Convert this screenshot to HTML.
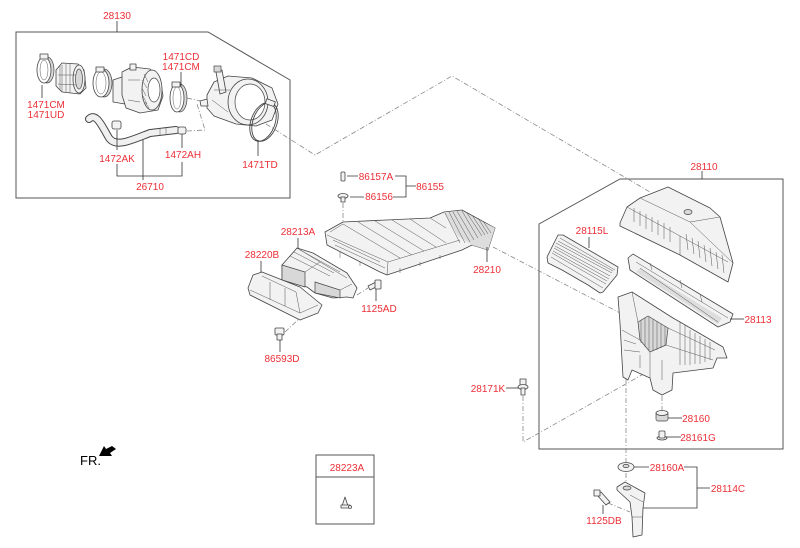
<!DOCTYPE html>
<html><head><meta charset="utf-8"><style>
html,body{margin:0;padding:0;background:#fff;}
svg{display:block;}
text{font-family:"Liberation Sans",Arial,sans-serif;}
.l{font-size:10px;fill:#ec2f36;text-anchor:middle;}
.bx{fill:none;stroke:#555;stroke-width:1;}
.ld{fill:none;stroke:#333;stroke-width:0.8;}
.ds{fill:none;stroke:#888;stroke-width:0.8;stroke-dasharray:5 2 1 2;}
.p{fill:#f2f2f2;stroke:#444;stroke-width:0.8;stroke-linejoin:round;}
.pd{fill:#d8d8d8;stroke:#444;stroke-width:0.7;}
.t{fill:none;stroke:#555;stroke-width:0.5;}
</style></head><body>
<svg width="800" height="548" viewBox="0 0 800 548" xmlns="http://www.w3.org/2000/svg">
<rect width="800" height="548" fill="#fff"/>

<!-- Box 28130 -->
<path class="bx" d="M16,32 L208,32 L290,80 L290,198 L16,198 Z"/>
<!-- Box 28110 -->
<path class="bx" d="M620,179 L783,179 L783,449 L539,449 L539,224 Z"/>
<!-- Box 28223A -->
<rect class="bx" x="316" y="455" width="58" height="69"/>
<line class="bx" x1="316" y1="477" x2="374" y2="477"/>

<!-- dashed connectors -->
<path class="ds" d="M266,124 L315,155 L452,76 L650,192"/>
<path class="ds" d="M493,247 L620,313"/>
<path class="ds" d="M523,396 L523,442 L663,363"/>
<path class="ds" d="M626,378 L626,462"/>
<path class="ds" d="M626,473 L626,482"/>
<path class="ds" d="M662,396 L662,413"/>
<path class="ds" d="M343,203 L343,226"/>
<path class="ds" d="M357,295 L368,288"/>
<path class="ds" d="M285,332 L300,318"/>
<path class="ds" d="M608,503 L630,512"/>
<path class="ds" d="M187,98 L201,101"/>
<path class="ds" d="M187,131 L205,130 L197,104"/>

<!-- ===== Parts in 28130 box ===== -->
<!-- clamp 1 -->
<ellipse cx="47" cy="70" rx="7" ry="13" class="pd"/>
<ellipse cx="44" cy="70" rx="7" ry="13" fill="#fff" stroke="#444" stroke-width="0.8"/>
<ellipse cx="44" cy="70" rx="4" ry="10" class="t"/>
<rect x="40" y="54" width="8" height="5" class="p"/>
<!-- boot -->
<path class="p" d="M56,70 L62,63 L78,64 L84,70 L86,88 L80,94 L62,92 L56,86 Z"/>
<ellipse cx="79" cy="79" rx="6" ry="14" class="p"/>
<ellipse cx="79" cy="79" rx="3.5" ry="10" class="pd"/>
<path class="t" d="M62,65 L62,92 M66,64 L66,92 M70,64 L70,93 M58,75 L76,75 M58,84 L76,85 M60,66 L60,90"/>
<!-- clamp 2 -->
<ellipse cx="104" cy="83" rx="8" ry="14" class="pd"/>
<ellipse cx="101" cy="83" rx="8" ry="14" fill="#fff" stroke="#444" stroke-width="0.8"/>
<ellipse cx="101" cy="83" rx="5" ry="11" class="t"/>
<rect x="96" y="67" width="8" height="5" class="p"/>
<!-- MAF / resonator -->
<path class="p" d="M113,80 L125,76 L125,104 L113,102 Z"/>
<path class="p" d="M122,72 L132,67 L150,69 L160,78 L163,96 L158,110 L140,113 L126,108 L122,95 Z"/>
<rect x="130" y="64" width="6" height="6" class="p"/>
<ellipse cx="152" cy="90" rx="10" ry="20" class="p"/>
<ellipse cx="154" cy="90" rx="6" ry="12" fill="#fff" stroke="#444" stroke-width="0.7"/>
<path class="t" d="M144,74 L148,82 M142,80 L147,88 M142,88 L146,96 M143,96 L147,104 M145,102 L149,108 M128,80 L140,80 M128,100 L140,102"/>
<!-- clamp 3 -->
<ellipse cx="180" cy="98" rx="7" ry="14" class="pd"/>
<ellipse cx="177" cy="98" rx="7" ry="14" fill="#fff" stroke="#444" stroke-width="0.8"/>
<ellipse cx="177" cy="98" rx="4" ry="11" class="t"/>
<rect x="172" y="82" width="8" height="5" class="p"/>
<!-- throttle elbow -->
<path class="p" d="M207,95 L214,82 L228,76 L252,78 L272,88 L278,104 L272,120 L256,126 L236,124 L214,116 L207,108 Z"/>
<path class="p" d="M216,72 L222,70 L226,92 L220,94 Z"/>
<rect x="214" y="66" width="7" height="6" class="pd"/>
<ellipse cx="248" cy="102" rx="20" ry="23" class="p"/>
<ellipse cx="250" cy="102" rx="15" ry="18" fill="#fff" stroke="#444" stroke-width="0.7"/>
<path class="p" d="M200,101 L207,99 L208,106 L201,106 Z"/>
<path class="t" d="M212,100 L228,112 M214,90 L230,90"/>
<!-- clamp 4 (1471TD) -->
<ellipse cx="263" cy="122" rx="12" ry="20" transform="rotate(20 263 122)" fill="none" stroke="#444" stroke-width="0.9"/>
<ellipse cx="265" cy="122" rx="12" ry="20" transform="rotate(20 265 122)" fill="none" stroke="#444" stroke-width="0.9"/>
<rect x="266" y="100" width="9" height="5" class="p" transform="rotate(20 270 102)"/>
<!-- hose 26710 -->
<path d="M89,119 C96,112 102,126 109,138 C116,148 132,140 150,133 L176,130" fill="none" stroke="#444" stroke-width="8" stroke-linecap="round"/>
<path d="M89,119 C96,112 102,126 109,138 C116,148 132,140 150,133 L176,130" fill="none" stroke="#f0f0f0" stroke-width="6" stroke-linecap="round"/>
<path class="t" d="M160,128 L160,135 M166,128 L166,134"/>
<!-- small clamps -->
<rect x="112" y="121" width="9" height="8" rx="2" class="p"/>
<rect x="178" y="127" width="8" height="7" rx="2" class="p"/>

<!-- ===== middle parts ===== -->
<rect x="341" y="172" width="4" height="9" rx="1" class="p"/>
<ellipse cx="343" cy="196" rx="5" ry="2.5" class="p"/>
<rect x="341" y="197" width="4" height="5" class="p"/>
<!-- duct 28210 -->
<path class="p" d="M325,232 L343,222 L430,218 L444,212 L462,210 L495,228 L488,250 L472,245 L462,250 L387,275 L380,272 L327,245 Z"/>
<path fill="#ddd" stroke="none" d="M444,213 L462,211 L495,228 L488,250 L472,245 L458,236 Z"/>
<path class="t" d="M327,235 L388,262 L460,240 M388,262 L387,275 M343,224 L400,258 M358,222 L412,255 M375,221 L424,251 M392,220 L436,247 M410,219 L446,243 M343,224 L330,232 M333,240 L380,262 M445,213 L460,243 M449,212 L465,243 M453,212 L470,242 M457,211 L474,240 M462,211 L478,238 M467,213 L482,236 M472,215 L485,235 M478,218 L488,234 M483,221 L491,233 M430,218 L446,228"/>
<path class="t" d="M340,252 L340,258 M360,262 L360,266 M400,268 L400,273 M420,262 L420,266 M440,255 L440,259 M335,245 L385,268"/>
<!-- ECU 28213A -->
<path class="p" d="M282,265 L297,248 L313,253 L347,273 L357,288 L353,298 L347,297 L333,298 L315,293 L307,287 L282,280 Z"/>
<path class="pd" d="M282,265 L305,272 L305,287 L282,280 Z"/>
<path class="pd" d="M315,282 L340,290 L340,298 L315,293 Z"/>
<path class="t" d="M297,248 L320,262 L347,278 M305,272 L320,262 M340,290 L352,284 M290,256 L330,276 M294,252 L334,273 M300,250 L340,272"/>
<!-- bracket 28220B -->
<path class="p" d="M253,275 L262,272 L300,287 L322,305 L318,313 L300,320 L250,295 L248,288 Z"/>
<path class="t" d="M250,290 L300,313 L318,305 M262,276 L296,292 L300,313 M270,282 L270,300 M285,288 L285,306"/>
<!-- bolt 1125AD -->
<path class="p" d="M368,286 L376,282 L378,286 L370,290 Z"/>
<rect x="375" y="280" width="6" height="9" rx="1" class="p"/>
<!-- bolt 86593D -->
<rect x="275" y="328" width="9" height="7" rx="1" class="p"/>
<rect x="277" y="334" width="5" height="6" class="p"/>

<!-- ===== right box parts ===== -->
<!-- cover -->
<path class="p" d="M620,223 L627,207 L640,198 L668,187 L710,208 L720,217 L733,263 L728,282 L680,255 L620,226 Z"/>
<path class="t" d="M627,207 L680,236 L728,262 M640,198 L690,222 L720,217 M680,236 L680,255 M690,222 L733,263"/>
<path class="t" d="M634,208 L634,222 M640,211 L640,226 M646,214 L646,229 M652,217 L652,232 M658,220 L658,235 M664,223 L664,239 M670,227 L670,242 M686,234 L688,250 M692,238 L694,254 M698,241 L700,258 M704,245 L706,262 M710,248 L712,266 M716,252 L718,269 M722,255 L724,273"/>
<ellipse cx="688" cy="212" rx="4" ry="2.5" class="pd"/>
<!-- filter -->
<path class="p" d="M628,258 L633,254 L733,314 L730,322 L718,327 L630,270 Z"/>
<path fill="#ddd" stroke="none" d="M640,268 L722,318 L718,324 L636,272 Z"/>
<path class="t" d="M636,262 L728,318 M640,268 L718,322 M650,263 L652,270 M680,280 L682,288 M700,294 L702,302"/>
<!-- filter cover 28115L -->
<path class="p" d="M547,257 L558,235 L563,235 L618,267 L617,275 L603,292 L600,293 L588,285 L562,270 L548,263 Z"/>
<path class="t" d="M556,243 L612,273 M554,248 L609,279 M552,253 L606,284 M551,257 L603,288 M560,238 L615,270 M558,241 L613,271 M555,246 L610,276 M553,251 L607,281"/>
<!-- body -->
<path class="p" d="M618,297 L632,292 L673,318 L680,322 L723,347 L727,358 L717,358 L713,368 L673,373 L672,390 L662,395 L653,390 L650,378 L632,370 L628,380 L623,377 L622,360 L620,323 Z"/>
<path class="pd" d="M638,322 L648,316 L668,328 L666,345 L650,352 L640,340 Z"/>
<path class="t" d="M641,320 L641,343 M645,318 L645,347 M649,317 L649,350 M653,319 L653,351 M657,321 L657,350 M661,324 L661,348 M665,326 L665,346"/>
<path class="t" d="M668,328 L715,350 M666,345 L713,360 M680,322 L680,365 M685,325 L685,365 M690,330 L690,365 M695,333 L695,364 M700,336 L700,364 M705,339 L705,362 M710,342 L710,360 M632,292 L638,322 M622,330 L640,340 M650,352 L650,378 M640,355 L640,368 M662,360 L662,380 M624,340 L636,344 M624,350 L640,352"/>
<!-- 28171K bolt -->
<rect x="520" y="379" width="6" height="6" class="p"/>
<ellipse cx="523" cy="387" rx="5" ry="2.5" class="p"/>
<rect x="521" y="388" width="4" height="7" class="p"/>
<!-- grommet 28160 -->
<rect x="656" y="412" width="12" height="9" rx="2" class="pd"/>
<ellipse cx="662" cy="413" rx="6" ry="2.5" class="p"/>
<!-- bolt 28161G -->
<ellipse cx="662" cy="438" rx="5" ry="2" class="p"/>
<rect x="659" y="431" width="6" height="7" rx="1" class="p"/>
<!-- washer 28160A -->
<ellipse cx="626" cy="467" rx="8" ry="4.5" class="p"/>
<ellipse cx="626" cy="466" rx="3" ry="1.6" class="pd"/>
<!-- bracket 28114C -->
<path class="p" d="M617,487 L625,482 L645,493 L643,508 L642,535 L633,537 L632,517 L630,502 L617,490 Z"/>
<ellipse cx="627" cy="488" rx="4" ry="2" class="pd"/>
<path class="t" d="M630,495 L643,502 M632,517 L642,517"/>
<!-- bolt 1125DB -->
<path class="p" d="M596,494 L601,492 L610,502 L606,505 Z"/>
<rect x="594" y="490" width="6" height="6" class="p"/>

<!-- 28223A clip -->
<path class="p" d="M342,506 L345,497 L348,506 Z"/>
<rect x="341" y="505" width="9" height="3" class="p"/>
<circle cx="350" cy="507" r="1.5" class="p"/>

<!-- FR arrow -->
<path d="M99,456 L104,446 L106,449 L112,446 L116,449 L110,453 L112,456 Z" fill="#000"/>
<text x="80" y="465" font-size="13" fill="#000">FR.</text>

<!-- leaders -->
<path class="ld" d="M117,21 L117,32"/>
<path class="ld" d="M42,85 L42,98"/>
<path class="ld" d="M181,72 L181,86"/>
<path class="ld" d="M117,130 L117,150 M117,164 L117,176 L182,176 L182,162 M182,148 L182,134 M143,140 L143,180"/>
<path class="ld" d="M258,140 L258,156"/>
<path class="ld" d="M347,176 L358,176 M395,176 L406,176 L406,197 L393,197 M406,186 L416,186 M350,197 L364,197"/>
<path class="ld" d="M298,238 L298,249"/>
<path class="ld" d="M261,261 L261,272"/>
<path class="ld" d="M487,247 L487,262"/>
<path class="ld" d="M376,289 L376,301"/>
<path class="ld" d="M280,340 L280,352"/>
<path class="ld" d="M702,171 L702,179"/>
<path class="ld" d="M589,237 L589,248"/>
<path class="ld" d="M730,319 L744,319"/>
<path class="ld" d="M668,418 L682,418"/>
<path class="ld" d="M666,437 L681,437"/>
<path class="ld" d="M506,388 L519,388"/>
<path class="ld" d="M634,467 L649,467 M684,467 L697,467 L697,508 L643,508 M697,488 L710,488"/>
<path class="ld" d="M603,505 L603,514"/>

<!-- labels -->
<text class="l" x="117" y="19">28130</text>
<text class="l" x="46" y="108">1471CM</text>
<text class="l" x="46" y="118">1471UD</text>
<text class="l" x="181" y="60">1471CD</text>
<text class="l" x="181" y="70">1471CM</text>
<text class="l" x="117" y="162">1472AK</text>
<text class="l" x="183" y="158">1472AH</text>
<text class="l" x="150" y="190">26710</text>
<text class="l" x="260" y="168">1471TD</text>
<text class="l" x="376" y="180">86157A</text>
<text class="l" x="379" y="200">86156</text>
<text class="l" x="430" y="190">86155</text>
<text class="l" x="298" y="235">28213A</text>
<text class="l" x="262" y="258">28220B</text>
<text class="l" x="487" y="273">28210</text>
<text class="l" x="379" y="312">1125AD</text>
<text class="l" x="282" y="362">86593D</text>
<text class="l" x="704" y="170">28110</text>
<text class="l" x="592" y="234">28115L</text>
<text class="l" x="758" y="323">28113</text>
<text class="l" x="696" y="422">28160</text>
<text class="l" x="698" y="441">28161G</text>
<text class="l" x="488" y="392">28171K</text>
<text class="l" x="667" y="471">28160A</text>
<text class="l" x="728" y="492">28114C</text>
<text class="l" x="604" y="524">1125DB</text>
<text class="l" x="347" y="471">28223A</text>
</svg>
</body></html>
